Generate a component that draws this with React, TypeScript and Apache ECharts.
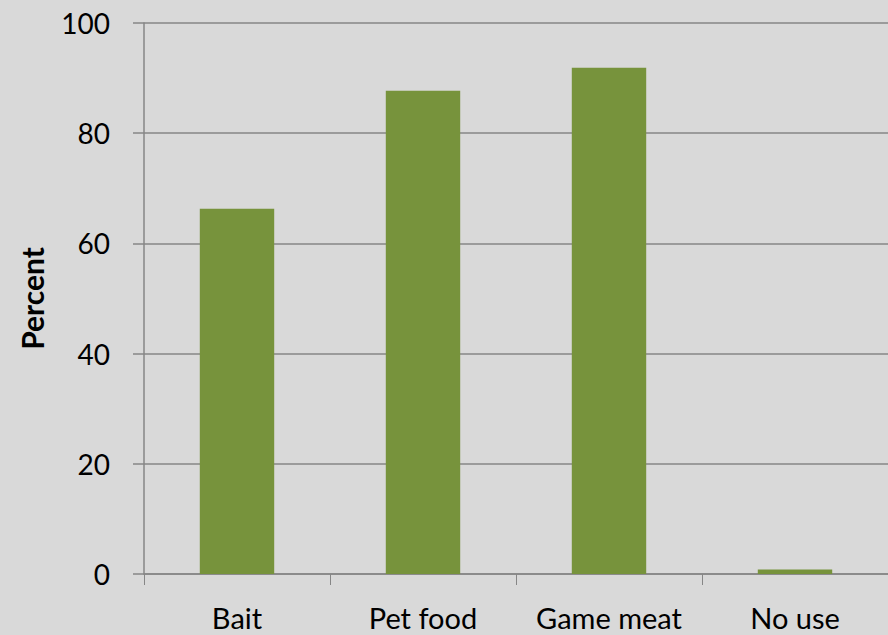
import React, { useEffect, useRef } from "react";
import * as echarts from "echarts";

const categories = ["Bait", "Pet food", "Game meat", "No use"];
const percentValues = [66.3, 87.7, 91.9, 0.8];
const yTicks = { min: 0, max: 100, interval: 20 };

export default function App() {
  const ref = useRef<HTMLDivElement>(null);
  useEffect(() => {
    if (!ref.current) return;
    const chart = echarts.init(ref.current, null, { renderer: "svg" });
    chart.setOption({
      animation: false,
      backgroundColor: "#d9d9d9",
      textStyle: { fontFamily: "Lato" },
      grid: { left: 144, right: -6, top: 23, bottom: 61, containLabel: false },
      xAxis: {
        type: "category",
        data: categories,
        axisLine: { lineStyle: { color: "#868686", width: 1.5 } },
        axisTick: { show: true, interval: 0, length: 11, lineStyle: { color: "#868686", width: 1 } },
        axisLabel: { color: "#000", fontSize: 29, margin: 29, interval: 0, hideOverlap: false, fontFamily: "Lato" },
        splitLine: { show: false },
      },
      yAxis: {
        type: "value",
        min: yTicks.min,
        max: yTicks.max,
        interval: yTicks.interval,
        name: "Percent",
        nameLocation: "middle",
        nameGap: 97,
        nameRotate: 90,
        nameTextStyle: { color: "#000", fontSize: 30, fontWeight: "bold", fontFamily: "Lato" },
        axisLine: { show: true, lineStyle: { color: "#868686", width: 1.5 } },
        axisTick: { show: true, length: 11, lineStyle: { color: "#868686", width: 1.5 } },
        axisLabel: { color: "#000", fontSize: 28, margin: 34, fontFamily: "Lato" },
        splitLine: { show: true, lineStyle: { color: "#868686", width: 1.5 } },
      },
      series: [
        {
          type: "bar",
          data: percentValues,
          barWidth: "40%",
          itemStyle: { color: "#77933c" },
        },
      ],
    });
    return () => chart.dispose();
  }, []);
  return (
    <div
      ref={ref}
      style={{ position: "absolute", left: 0, top: 0, width: 888, height: 635 }}
    />
  );
}
